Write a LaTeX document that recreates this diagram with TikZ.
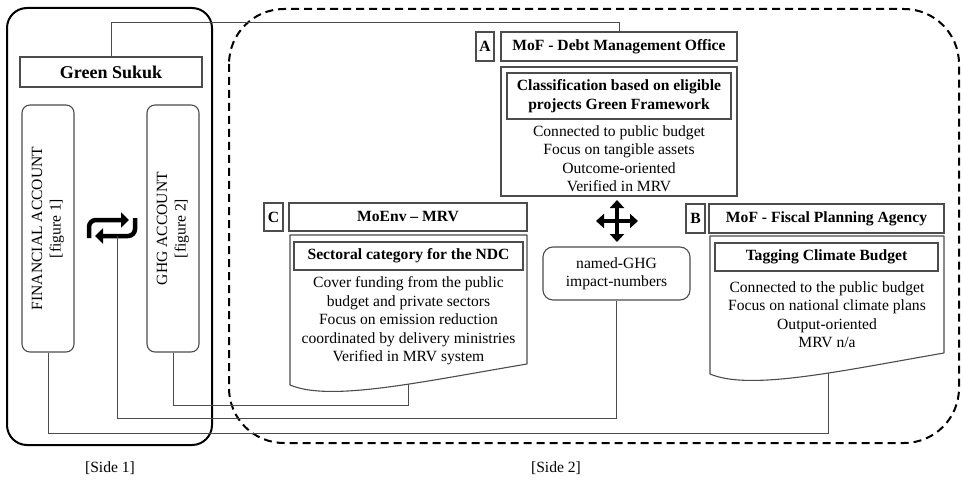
\documentclass[tikz,border=0pt]{standalone}
\usepackage{fontspec}
\setmainfont{Liberation Serif}
\usepackage{tikz}
\usetikzlibrary{arrows.meta}
\colorlet{lnc}{black!70}

\begin{document}
\begin{tikzpicture}[
        x=1pt, y=-1pt,
        box/.style={draw=lnc, line width=1.1pt, inner sep=0pt, align=center},
        hdr/.style={box, font=\bfseries\fontsize{15.6}{18.5}\selectfont},
        txt/.style={inner sep=0pt, align=center, font=\fontsize{15.6}{18.5}\selectfont},
        acc/.style={box, rounded corners=8pt, minimum width=52pt, minimum height=247pt},
        link/.style={draw=lnc, line width=1pt},
        fat/.style={line width=4.5pt, -{Triangle[length=8pt,width=15pt]}}
    ]
    \useasboundingbox (0,0) rectangle (963,481);

    % side 1
    \draw [line width=2pt, rounded corners=20pt] (7,8) rectangle (212,445);
    \node [hdr, font=\bfseries\fontsize{18}{21}\selectfont, minimum width=182pt, minimum height=30pt] (sukuk) at (111,72) {Green Sukuk};
    \node [acc] (fin) at (48,228.5) {};
    \node [acc] (ghg) at (173,228.5) {};
    \node [txt, rotate=90] at (fin) {FINANCIAL ACCOUNT\\{[figure 1]}};
    \node [txt, rotate=90] at (ghg) {GHG ACCOUNT\\{[figure 2]}};

    \draw [fat, rounded corners=7pt] (89,238) -- (89,220) -- (129,220);
    \draw [fat, rounded corners=7pt] (135,218) -- (135,236) -- (95,236);
    \coordinate (cycfoot) at (117,236);

    % side 2
    \draw [line width=2pt, dash pattern=on 8pt off 5pt, rounded corners=55pt] (229,9) rectangle (959,443);

    % A
    \node [hdr, minimum width=18pt, minimum height=29pt] (labA) at (485,46.5) {A};
    \node [hdr, minimum width=236pt, minimum height=29pt] (mofA) at (619,46.5) {MoF - Debt Management Office};
    \node [box, minimum width=236pt, minimum height=129pt] (docA) at (619,131.5) {};
    \node [hdr, minimum width=224pt, minimum height=46pt] (clsA) at (619,96) {Classification based on eligible\\projects Green Framework};
    \node [txt] (txtA) at (619,158.5) {Connected to public budget\\Focus on tangible assets\\Outcome-oriented\\Verified in MRV};

    % C
    \node [hdr, minimum width=19pt, minimum height=28pt] (labC) at (273.5,217) {C};
    \node [hdr, minimum width=238pt, minimum height=28pt] (mofC) at (408,217) {MoEnv -- MRV};
    \draw [box, line join=round] (527,364) -- (527,235) -- (290,235) -- (290,385)
        .. controls (330,402) and (420,382) .. coordinate[pos=0.6] (footC) (527,364);
    \node [hdr, minimum width=229pt, minimum height=28pt] (clsC) at (408.5,256) {Sectoral category for the NDC};
    \node [txt] (txtC) at (408.5,321) {Cover funding from the public\\budget and private sectors\\Focus on emission reduction\\coordinated by delivery ministries\\Verified in MRV system};

    % B
    \node [hdr, minimum width=19pt, minimum height=29pt] (labB) at (695.5,218.5) {B};
    \node [hdr, minimum width=235pt, minimum height=29pt] (mofB) at (826.5,218.5) {MoF - Fiscal Planning Agency};
    \draw [box, line join=round] (944,353) -- (944,236) -- (710,236) -- (710,374)
        .. controls (750,391) and (840,371) .. coordinate[pos=0.6] (footB) (944,353);
    \node [hdr, minimum width=223pt, minimum height=28pt] (clsB) at (826.5,257) {Tagging Climate Budget};
    \node [txt] (txtB) at (827,314.75) {Connected to the public budget\\Focus on national climate plans\\Output-oriented\\MRV n/a};

    % middle
    \draw [line width=3.5pt, {Triangle[length=8pt,width=14pt]}-{Triangle[length=8pt,width=14pt]}] (596,221) -- (638,221);
    \draw [line width=3.5pt, {Triangle[length=8pt,width=14pt]}-{Triangle[length=8pt,width=14pt]}] (617,200) -- (617,242);
    \node [box, txt, draw=lnc, rounded corners=10pt, minimum width=147pt, minimum height=53pt] (num) at (616.5,273.5) {named-GHG\\impact-numbers};

    % links
    \draw [link] (sukuk.north) -- ++(0,-34) -| (mofA.north);
    \draw [link] (ghg.south) -- ++(0,53) -| (footC);
    \draw [link] (cycfoot) -- ++(0,182) -| (num.south);
    \draw [link] (fin.south) -- ++(0,81) -| (footB);

    \node [txt] (side1) at (110,468) {[Side 1]};
    \node [txt] (side2) at (556,468) {[Side 2]};
\end{tikzpicture}
\end{document}
